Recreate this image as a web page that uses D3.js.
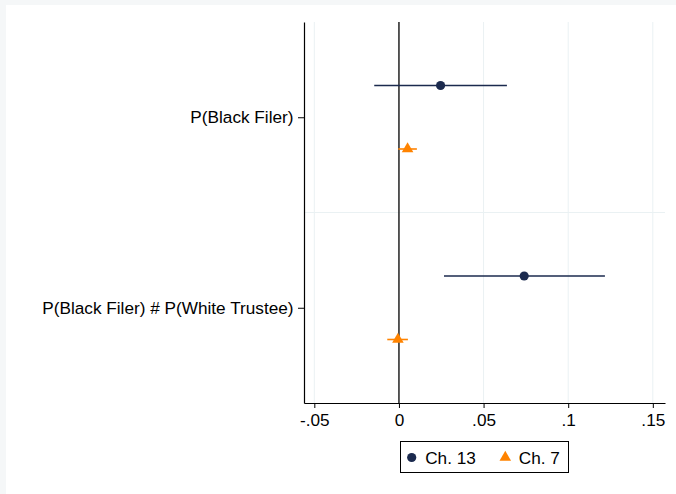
<!DOCTYPE html>
<html>
<head>
<meta charset="utf-8">
<script src="https://cdn.jsdelivr.net/npm/d3@7"></script>
<style>
  body { margin: 0; background: #fff; }
  text { font-family: "Liberation Sans", Arial, sans-serif; }
</style>
</head>
<body>
<svg id="chart"></svg>
<script>
// coefficient plot, two models per term
const terms = ["P(Black Filer)", "P(Black Filer) # P(White Trustee)"];
const series = ["Ch. 13", "Ch. 7"];
const est13 = [0.0246, 0.0740];
const lo13 = [-0.0146, 0.0266];
const hi13 = [0.0638, 0.1217];
const est7 = [0.0051, -0.0006];
const lo7 = [-0.0004, -0.0069];
const hi7 = [0.0106, 0.0053];
const xTicks = [-0.05, 0, 0.05, 0.1, 0.15];
const xTickLabels = ["-.05", "0", ".05", ".1", ".15"];

const W = 676, H = 494;
const MARGIN = { left: 304, right: 11, top: 22, bottom: 91 };
const FONT = 17.2;
const colors = { "Ch. 13": "#1b2a4e", "Ch. 7": "#ff8300" };

const svg = d3.select("#chart").attr("width", W).attr("height", H);

// faint outer frame like the stata export
svg.append("rect").attr("width", W).attr("height", H).attr("fill", "#f5f7f8");
svg.append("rect").attr("x", 6).attr("y", 5).attr("width", W).attr("height", H).attr("fill", "#fff");

const x = d3.scaleLinear()
    .domain([-0.0561, 0.1572])
    .range([MARGIN.left, W - MARGIN.right]);
const y = d3.scaleLinear()
    .domain([0.5, terms.length + 0.5])
    .range([MARGIN.top, H - MARGIN.bottom]);

const offset = { "Ch. 13": -1 / 6, "Ch. 7": 1 / 6 };

// gridlines
svg.append("g").selectAll("line")
    .data(xTicks.filter(d => d !== 0))
    .enter().append("line")
    .attr("x1", d => x(d)).attr("x2", d => x(d))
    .attr("y1", MARGIN.top).attr("y2", H - MARGIN.bottom)
    .attr("stroke", "#eaf1f3").attr("stroke-width", 1);

svg.append("line")
    .attr("x1", MARGIN.left).attr("x2", W - MARGIN.right)
    .attr("y1", y(1.5)).attr("y2", y(1.5))
    .attr("stroke", "#eaf1f3").attr("stroke-width", 1.2);

// zero reference line
svg.append("line")
    .attr("x1", x(0)).attr("x2", x(0))
    .attr("y1", MARGIN.top).attr("y2", H - MARGIN.bottom)
    .attr("stroke", "#222").attr("stroke-width", 1.5);

// x axis
const xAxis = d3.axisBottom(x)
    .tickValues(xTicks)
    .tickFormat((d, i) => xTickLabels[i])
    .tickSize(5)
    .tickSizeOuter(0);
const gx = svg.append("g")
    .attr("transform", `translate(0,${H - MARGIN.bottom})`)
    .call(xAxis);
gx.select(".domain").attr("stroke", "#000").attr("stroke-width", 1.2);
gx.selectAll(".tick line").attr("stroke", "#000");
gx.selectAll(".tick text")
    .attr("font-size", FONT).attr("fill", "#000")
    .attr("font-family", "Liberation Sans, Arial, sans-serif")
    .attr("dy", "0.95em").attr("y", 6.5);

// y axis
const yAxis = d3.axisLeft(y)
    .tickValues([1, 2])
    .tickFormat((d, i) => terms[i])
    .tickSize(6)
    .tickSizeOuter(0);
const gy = svg.append("g")
    .attr("transform", `translate(${MARGIN.left},0)`)
    .call(yAxis);
gy.select(".domain").attr("stroke", "#000").attr("stroke-width", 1.2);
gy.selectAll(".tick line").attr("stroke", "#000");
gy.selectAll(".tick text")
    .attr("font-size", FONT).attr("fill", "#000")
    .attr("font-family", "Liberation Sans, Arial, sans-serif")
    .attr("x", -10.5);

// build rows
const rows = [];
terms.forEach((t, i) => {
    rows.push({ s: "Ch. 13", pos: i + 1, est: est13[i], lo: lo13[i], hi: hi13[i] });
    rows.push({ s: "Ch. 7", pos: i + 1, est: est7[i], lo: lo7[i], hi: hi7[i] });
});

const plot = svg.append("g");

plot.selectAll(".ci")
    .data(rows)
    .enter().append("line")
    .attr("class", "ci")
    .attr("x1", d => x(d.lo)).attr("x2", d => x(d.hi))
    .attr("y1", d => y(d.pos + offset[d.s])).attr("y2", d => y(d.pos + offset[d.s]))
    .attr("stroke", d => colors[d.s])
    .attr("stroke-width", 1.6);

const circleSym = d3.symbol().type(d3.symbolCircle).size(66);
const triSym = d3.symbol().type(d3.symbolTriangle).size(58);

plot.selectAll(".pt")
    .data(rows)
    .enter().append("path")
    .attr("class", "pt")
    .attr("d", d => d.s === "Ch. 13" ? circleSym() : triSym())
    .attr("transform", d => `translate(${x(d.est)},${y(d.pos + offset[d.s])})`)
    .attr("fill", d => colors[d.s]);

// legend
const leg = svg.append("g");
leg.append("rect")
    .attr("x", 400.5).attr("y", 441.5)
    .attr("width", 168).attr("height", 31)
    .attr("fill", "#fff").attr("stroke", "#000").attr("stroke-width", 1);

const legX = [411.7, 505.3];
series.forEach((s, i) => {
    leg.append("path")
        .attr("d", i === 0 ? circleSym() : triSym())
        .attr("transform", `translate(${legX[i]},${457.5})`)
        .attr("fill", colors[s]);
    leg.append("text")
        .attr("x", legX[i] + 13.5)
        .attr("y", 463.5)
        .attr("font-size", FONT)
        .attr("fill", "#000")
        .text(s);
});
</script>
</body>
</html>
